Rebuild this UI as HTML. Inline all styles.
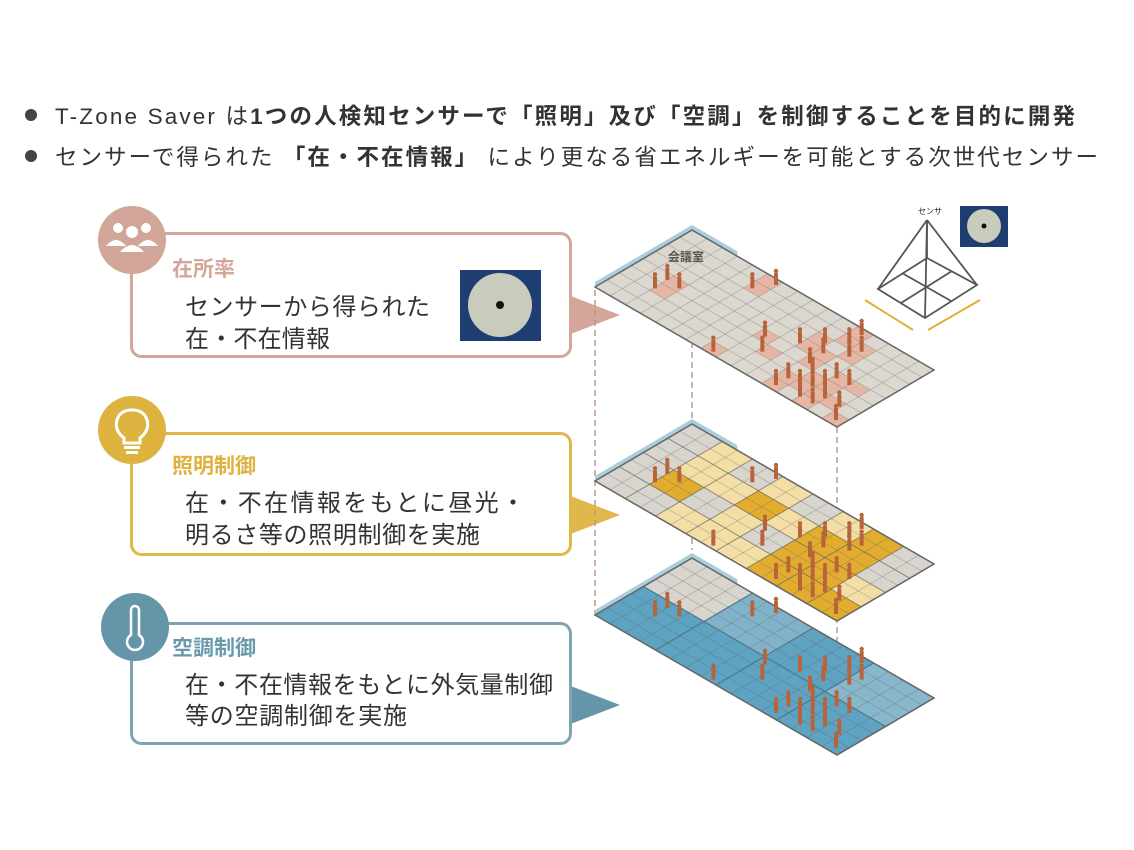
<!DOCTYPE html>
<html><head><meta charset="utf-8">
<style>
body{margin:0;width:1134px;height:850px;background:#fff;overflow:hidden;font-family:"Liberation Sans","Noto Sans CJK JP",sans-serif;}
</style></head><body>
<svg id="s" width="1134" height="850" xmlns="http://www.w3.org/2000/svg" style="position:absolute;left:0;top:0">
<g font-family="Liberation Sans, Noto Sans CJK JP, sans-serif">
<circle cx="31" cy="115" r="6" fill="#444"/>
<circle cx="31" cy="156" r="6" fill="#444"/>
<text x="55" y="124" font-size="22.5" fill="#333" textLength="1020" lengthAdjust="spacing">T-Zone Saver は<tspan font-weight="bold">1つの人検知センサーで「照明」及び「空調」を制御することを目的に開発</tspan></text>
<text x="55" y="165" font-size="22.5" fill="#333" textLength="1043" lengthAdjust="spacing">センサーで得られた <tspan font-weight="bold">「在・不在情報」</tspan> により更なる省エネルギーを可能とする次世代センサー</text>

<polygon points="568,295 620,315 568,335" fill="#d3a699"/>
<rect x="131.5" y="233.5" width="439" height="123" rx="10" fill="#fff" stroke="#d3a699" stroke-width="3"/>
<circle cx="132" cy="240" r="34" fill="#d1a598"/>
<g fill="#fff"><circle cx="132" cy="232" r="6"/><circle cx="118" cy="228" r="5"/><circle cx="146" cy="228" r="5"/>
<path d="M120 252 q12-14 24 0z"/><path d="M106 246 q10-12 20 0z"/><path d="M138 246 q10-12 20 0z"/></g>
<text x="172" y="276" font-size="21" font-weight="bold" fill="#d3a699">在所率</text>
<text x="185" y="315" font-size="24" fill="#333" textLength="245" lengthAdjust="spacing">センサーから得られた</text>
<text x="185" y="347" font-size="24" fill="#333" textLength="145" lengthAdjust="spacing">在・不在情報</text>
<rect x="460" y="270" width="81" height="71" fill="#1e3e72"/>
<circle cx="500" cy="305" r="32" fill="#c9cbbc"/><circle cx="500" cy="305" r="4" fill="#111"/>

<polygon points="568,495 620,515 568,535" fill="#e0b74a"/>
<rect x="131.5" y="433.5" width="439" height="121" rx="10" fill="#fff" stroke="#e0b74a" stroke-width="3"/>
<circle cx="132" cy="430" r="34" fill="#ddb23f"/>
<path d="M124 443 v-5 q-10-8-7-18 q3-10 15-10 q12 0 15 10 q3 10-7 18 v5z" fill="none" stroke="#fff" stroke-width="3"/>
<rect x="124" y="446" width="16" height="3" fill="#fff"/><rect x="126" y="451" width="12" height="3" fill="#fff"/>
<text x="172" y="473" font-size="21" font-weight="bold" fill="#ddb23f">照明制御</text>
<text x="185" y="511" font-size="24" fill="#333" textLength="340" lengthAdjust="spacing">在・不在情報をもとに昼光・</text>
<text x="185" y="543" font-size="24" fill="#333" textLength="295" lengthAdjust="spacing">明るさ等の照明制御を実施</text>

<polygon points="568,685 620,705 568,725" fill="#6496a8"/>
<rect x="131.5" y="623.5" width="439" height="120" rx="10" fill="#fff" stroke="#7fa5b3" stroke-width="3"/>
<circle cx="135" cy="627" r="34" fill="#6496a8"/>
<path d="M131 635 v-25 a4 4 0 0 1 8 0 v25 a8 8 0 1 1 -8 0z" fill="none" stroke="#fff" stroke-width="2.5"/>
<text x="172" y="655" font-size="21" font-weight="bold" fill="#6a9aaa">空調制御</text>
<text x="185" y="693" font-size="24" fill="#333" textLength="368" lengthAdjust="spacing">在・不在情報をもとに外気量制御</text>
<text x="185" y="724" font-size="24" fill="#333" textLength="222" lengthAdjust="spacing">等の空調制御を実施</text>
</g>
<g id="plates"></g>
<g stroke="#555" fill="none" stroke-width="1.8">
<polygon points="878,289 927,258 977,285 925,318"/>
<line x1="902" y1="273" x2="951" y2="301"/><line x1="901" y1="303" x2="952" y2="271"/>
<line x1="927" y1="220" x2="878" y2="289"/><line x1="927" y1="220" x2="927" y2="258"/><line x1="927" y1="220" x2="977" y2="285"/><line x1="927" y1="220" x2="925" y2="318"/>
</g>
<text x="918" y="214" font-size="8" fill="#222" font-family="Liberation Sans, Noto Sans CJK JP, sans-serif">センサ</text>
<g stroke="#e0b030" stroke-width="2"><line x1="865" y1="300" x2="913" y2="330"/><line x1="928" y1="330" x2="980" y2="300"/></g>
<rect x="960" y="206" width="48" height="41" fill="#1e3e72"/><circle cx="984" cy="226" r="17" fill="#c9cbbc"/><circle cx="984" cy="226" r="2.5" fill="#111"/>
</svg>
<script>
var NS="http://www.w3.org/2000/svg",g=document.getElementById('plates');
var U=[97,-57],V=[242,140];
function P(ox,oy,i,j){return [ox+i/8*U[0]+j/16*V[0],oy+i/8*U[1]+j/16*V[1]];}
function poly(pts,fill,stroke,sw){var p=document.createElementNS(NS,'polygon');p.setAttribute('points',pts.map(function(a){return a.join(',')}).join(' '));p.setAttribute('fill',fill);if(stroke){p.setAttribute('stroke',stroke);p.setAttribute('stroke-width',sw||1);}g.appendChild(p);}
function line(a,b,c,w,d){var l=document.createElementNS(NS,'line');l.setAttribute('x1',a[0]);l.setAttribute('y1',a[1]);l.setAttribute('x2',b[0]);l.setAttribute('y2',b[1]);l.setAttribute('stroke',c);l.setAttribute('stroke-width',w);if(d)l.setAttribute('stroke-dasharray',d);g.appendChild(l);}
function cell(ox,oy,i,j,di,dj,f){poly([P(ox,oy,i,j),P(ox,oy,i+di,j),P(ox,oy,i+di,j+dj),P(ox,oy,i,j+dj)],f);}
line([595,290],[595,615],'#b89a8a',1.5,'6,4');line([692,232],[692,426],'#b89a8a',1.5,'6,4');line([692,428],[692,550],'#b89a8a',1.5,'6,4');line([837,427],[837,755],'#b89a8a',1.5,'6,4');
var plates=[[595,287],[595,481],[595,615]];
var Z=[[225,265],[262,240],[298,265],[517,265],[588,255],[400,455],[555,410],[547,455],[660,430],[735,430],[808,430],[845,405],[808,470],[845,455],[690,490],[698,520],[588,555],[625,535],[660,555],[698,560],[735,555],[770,535],[808,555],[660,590],[698,610],[735,595],[778,620],[768,660],[730,460]];
var ppl=Z.map(function(z){var dx=580+z[0]/3-595,dy=200+z[1]/3-287,det=213.86;return [(8.75*dx-15.125*dy)/det,(7.125*dx+12.125*dy)/det];});
plates.forEach(function(o,k){var ox=o[0],oy=o[1];
 poly([P(ox,oy,0,0),P(ox,oy,8,0),[P(ox,oy,8,0)[0],P(ox,oy,8,0)[1]-5],[ox,oy-5]],'#a9cfdc');
 poly([P(ox,oy,8,0),P(ox,oy,8,3),[P(ox,oy,8,3)[0],P(ox,oy,8,3)[1]-5],[P(ox,oy,8,0)[0],P(ox,oy,8,0)[1]-5]],'#a9cfdc');
 poly([P(ox,oy,0,0),P(ox,oy,8,0),P(ox,oy,8,16),P(ox,oy,0,16)],'#dcd8d0');
 if(k==0){ppl.forEach(function(p){cell(ox,oy,Math.floor(p[0]),Math.floor(p[1]),1,1,'#e6b6a4');});}
 if(k==1){
  var gold=[[1,1],[2,3],[1,5],[2,5],[1,6],[0,6],[0,7],[2,6],[3,6],[0,5]],lt=[[2,1],[3,1],[0,2],[1,3],[3,3],[2,4],[0,4],[1,7],[3,5],[0,3],[2,2]];
  function has(a,i,j){return a.some(function(x){return x[0]==i&&x[1]==j});}
  for(var bi=0;bi<4;bi++)for(var bj=0;bj<8;bj++){var f='#d8d5cf';if(has(gold,bi,bj))f='#e2ad2e';else if(has(lt,bi,bj))f='#f3dfa6';cell(ox,oy,bi*2,bj*2,2,2,f);}}
 if(k==2){var bl=[['#5ea3c1','#80b3c9'],['#5ea3c1','#80b3c9'],['#5ea3c1','#5ea3c1'],['#5ea3c1','#88b6ca']];
  for(var bj=0;bj<4;bj++)for(var bi=0;bi<2;bi++){var f=bl[bj][bi];if(bj==0&&bi==1)f='#d8d5cf';cell(ox,oy,bi*4,bj*4,4,4,f);}
  for(var bj=0;bj<=4;bj++)line(P(ox,oy,0,bj*4),P(ox,oy,8,bj*4),'#4a7f93',1.2);line(P(ox,oy,4,0),P(ox,oy,4,16),'#4a7f93',1.2);}
 for(var i=0;i<=8;i++)line(P(ox,oy,i,0),P(ox,oy,i,16),'rgba(100,100,100,0.35)',0.8);
 for(var j=0;j<=16;j++)line(P(ox,oy,0,j),P(ox,oy,8,j),'rgba(100,100,100,0.35)',0.8);
 if(k==1){for(var i=0;i<=8;i+=2)line(P(ox,oy,i,0),P(ox,oy,i,16),'rgba(90,90,90,0.5)',1);for(var j=0;j<=16;j+=2)line(P(ox,oy,0,j),P(ox,oy,8,j),'rgba(90,90,90,0.5)',1);}
 poly([P(ox,oy,0,0),P(ox,oy,8,0),P(ox,oy,8,16),P(ox,oy,0,16)],'none','#666',1.5);
 Z.forEach(function(z){var cx=580+z[0]/3,cy=200+z[1]/3+(oy-287);var r=document.createElementNS(NS,'rect');r.setAttribute('x',cx-2);r.setAttribute('y',cy-12);r.setAttribute('width',4);r.setAttribute('height',12);r.setAttribute('fill','#b8643a');g.appendChild(r);var h=document.createElementNS(NS,'circle');h.setAttribute('cx',cx);h.setAttribute('cy',cy-14);h.setAttribute('r',2.2);h.setAttribute('fill','#b8643a');g.appendChild(h);});
 if(k==0){var t=document.createElementNS(NS,'text');t.setAttribute('x',668);t.setAttribute('y',261);t.setAttribute('font-size','12');t.setAttribute('font-weight','bold');t.setAttribute('fill','#555');t.setAttribute('font-family','Liberation Sans, Noto Sans CJK JP, sans-serif');t.textContent='会議室';g.appendChild(t);}
});
</script>
</body></html>
